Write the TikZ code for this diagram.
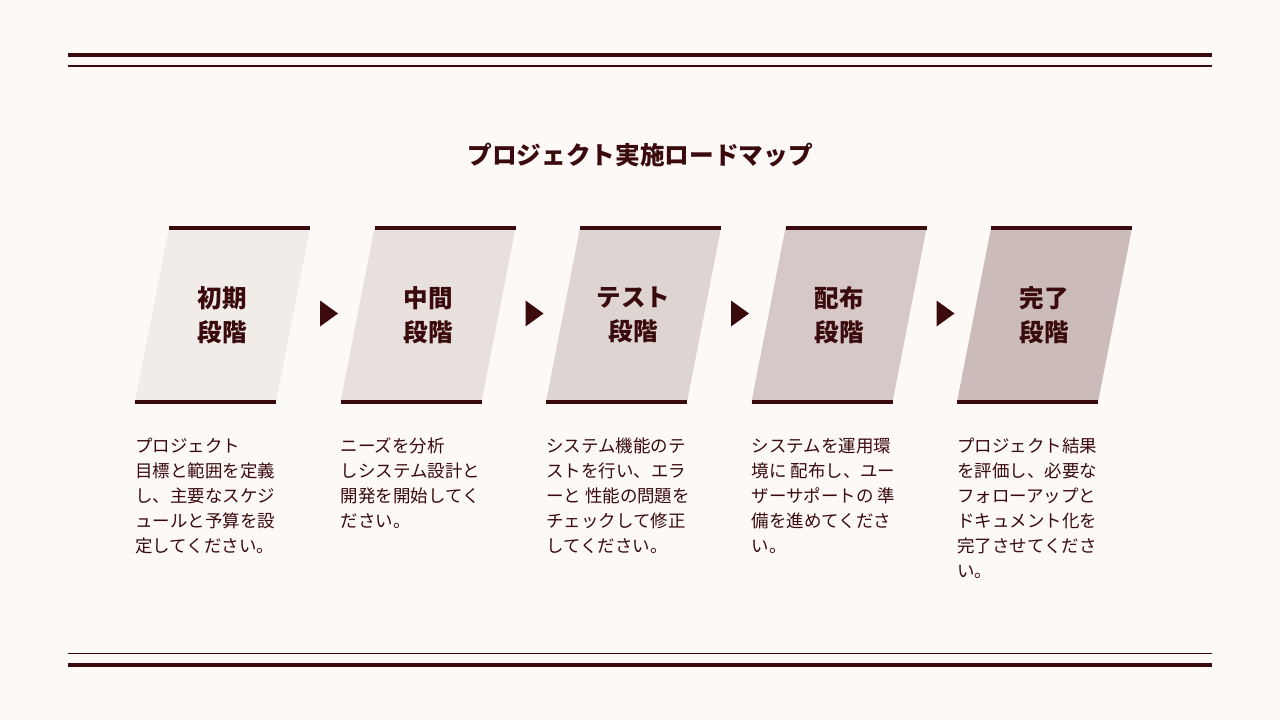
\documentclass[tikz,border=0pt]{standalone}
\usepackage{fontspec}
\setmainfont{Noto Sans CJK JP}
\usepackage{tikz}
\usetikzlibrary{positioning,calc}

\definecolor{paper}{HTML}{FDF9F6}
\definecolor{maroon}{HTML}{3A0A0C}
\definecolor{stageA}{HTML}{F2ECE9}
\definecolor{stageB}{HTML}{E8E0DD}
\definecolor{stageC}{HTML}{DED4D2}
\definecolor{stageD}{HTML}{D5C8C6}
\definecolor{stageE}{HTML}{CBBCBA}

\begin{document}
\begin{tikzpicture}[
    x=0.75pt, y=-0.75pt,
    rule/.style={maroon, line width=3pt},
    thinrule/.style={maroon, line width=1pt},
    bar/.style={maroon, line width=2.3pt},
    pointer/.style={fill=maroon},
    title/.style={font=\bfseries\fontsize{18.5pt}{22pt}\selectfont, text=maroon},
    stagelabel/.style={font=\bfseries\fontsize{18.4pt}{25.5pt}\selectfont, text=maroon, align=center},
    desc/.style={font=\fontsize{13.1pt}{18.75pt}\selectfont, text=maroon, align=left, inner sep=0pt, anchor=base west}
]
    % Page
    \fill[paper] (0,0) rectangle (1280,720);
    \useasboundingbox (0,0) rectangle (1280,720);

    % Frame rules
    \draw[rule] (68,54.7) -- (1212,54.7);
    \draw[thinrule] (68,66) -- (1212,66);
    \draw[thinrule] (68,653.3) -- (1212,653.3);
    \draw[rule] (68,665) -- (1212,665);

    % Title
    \node[title] (roadmap) at (640,155) {プロジェクト実施ロードマップ};

    % Stage panels
    \fill[stageA] (135,402) -- (169,228) -- (310,228) -- (276,402) -- cycle;
    \fill[stageB] (340.5,402) -- (374.5,228) -- (515.5,228) -- (481.5,402) -- cycle;
    \fill[stageC] (546,402) -- (580,228) -- (721,228) -- (687,402) -- cycle;
    \fill[stageD] (751.5,402) -- (785.5,228) -- (926.5,228) -- (892.5,402) -- cycle;
    \fill[stageE] (957,402) -- (991,228) -- (1132,228) -- (1098,402) -- cycle;

    % Panel bars
    \draw[bar] (169,228) -- (310,228);
    \draw[bar] (135,402) -- (276,402);
    \draw[bar] (374.5,228) -- (515.5,228);
    \draw[bar] (340.5,402) -- (481.5,402);
    \draw[bar] (580,228) -- (721,228);
    \draw[bar] (546,402) -- (687,402);
    \draw[bar] (785.5,228) -- (926.5,228);
    \draw[bar] (751.5,402) -- (892.5,402);
    \draw[bar] (991,228) -- (1132,228);
    \draw[bar] (957,402) -- (1098,402);

    % Stage names
    \node[stagelabel] (initial) at (222.5,315) {初期\\段階};
    \node[stagelabel] (middle) at (428,315) {中間\\段階};
    \node[stagelabel] (testing) at (633.5,315) {テスト\\段階};
    \node[stagelabel] (release) at (839,315) {配布\\段階};
    \node[stagelabel] (closing) at (1044.5,315) {完了\\段階};

    % Pointers
    \fill[pointer] (320,300.5) -- (338,313.5) -- (320,326.5) -- cycle;
    \fill[pointer] (525.5,300.5) -- (543.5,313.5) -- (525.5,326.5) -- cycle;
    \fill[pointer] (731,300.5) -- (749,313.5) -- (731,326.5) -- cycle;
    \fill[pointer] (936.5,300.5) -- (954.5,313.5) -- (936.5,326.5) -- cycle;

    % Descriptions (base = last line)
    \node[desc] (initialtext) at (135,552.6) {プロジェクト\\目標と範囲を定義\\し、主要なスケジ\\ュールと予算を設\\定してください。};
    \node[desc] (middletext) at (340.5,527.6) {ニーズを分析\\しシステム設計と\\開発を開始してく\\ださい。};
    \node[desc] (testingtext) at (546,552.6) {システム機能のテ\\ストを行い、エラ\\ーと 性能の問題を\\チェックして修正\\してください。};
    \node[desc] (releasetext) at (751.5,552.6) {システムを運用環\\境に 配布し、ユー\\ザーサポートの 準\\備を進めてくださ\\い。};
    \node[desc] (closingtext) at (957,577.6) {プロジェクト結果\\を評価し、必要な\\フォローアップと\\ドキュメント化を\\完了させてくださ\\い。};
\end{tikzpicture}
\end{document}
